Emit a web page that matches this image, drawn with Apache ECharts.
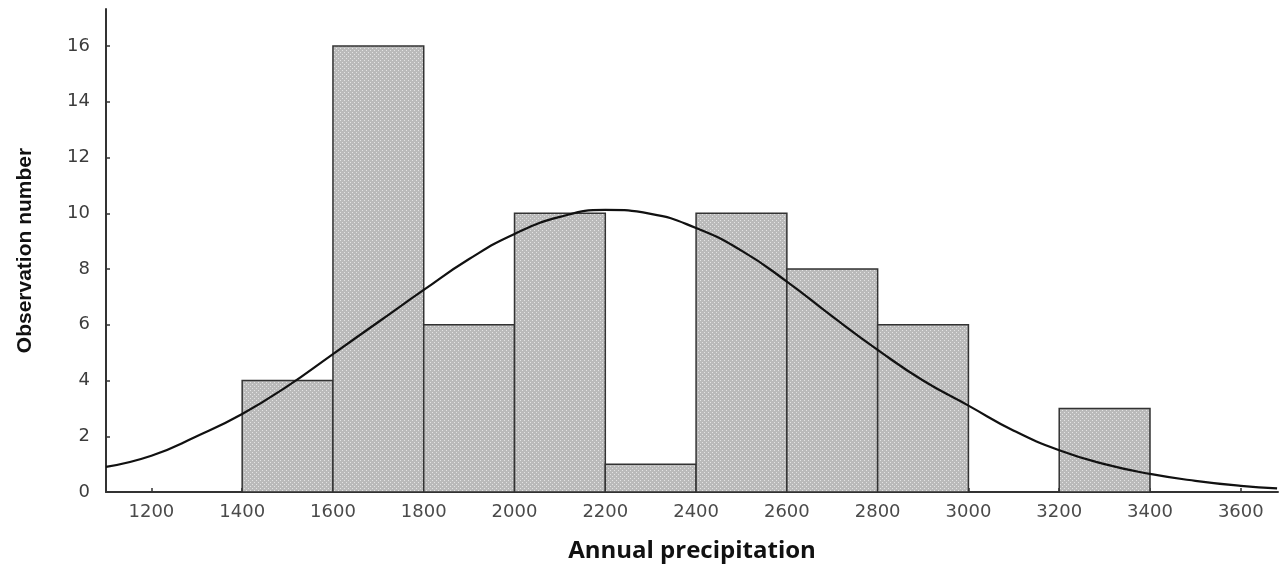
<!DOCTYPE html>
<html>
<head>
<meta charset="utf-8">
<script src="https://cdn.jsdelivr.net/npm/echarts@6/dist/echarts.min.js"></script>
<style>
html,body{margin:0;padding:0;background:#fff;}
#main{width:1280px;height:571px;}
</style>
</head>
<body>
<div id="main"></div>
<script>
// Histogram bins (lower edge, upper edge) and counts
var binStarts = [1400, 1600, 1800, 2000, 2200, 2400, 2600, 2800, 3000, 3200];
var binEnds   = [1600, 1800, 2000, 2200, 2400, 2600, 2800, 3000, 3200, 3400];
var counts    = [4, 16, 6, 10, 1, 10, 8, 6, 0, 3];

// Fitted normal curve
var curveX = [1100, 1200, 1300, 1400, 1500, 1600, 1700, 1800, 1900, 2000, 2100, 2200, 2300, 2400, 2500, 2600, 2700, 2800, 2900, 3000, 3100, 3200, 3300, 3400, 3500, 3600, 3680];
var curveY = [0.9, 1.3, 2.0, 2.8, 3.8, 4.95, 6.1, 7.25, 8.36, 9.26, 9.87, 10.12, 9.98, 9.47, 8.66, 7.55, 6.3, 5.1, 4.0, 3.1, 2.2, 1.5, 1.0, 0.65, 0.4, 0.22, 0.13];

// Tick labels
var xTicks = [1200, 1400, 1600, 1800, 2000, 2200, 2400, 2600, 2800, 3000, 3200, 3400, 3600];
var yTicks = [0, 2, 4, 6, 8, 10, 12, 14, 16];

// dotted grey fill pattern
var pc = document.createElement('canvas');
pc.width = 4; pc.height = 4;
var pctx = pc.getContext('2d');
pctx.fillStyle = '#bababa';
pctx.fillRect(0, 0, 4, 4);
pctx.fillStyle = '#e4e4e4';
pctx.fillRect(0, 0, 1, 1);
pctx.fillRect(2, 2, 1, 1);
var pattern = {image: pc, repeat: 'repeat'};

var barData = binStarts.map(function (s, i) { return [s, binEnds[i], counts[i]]; });
var lineData = curveX.map(function (x, i) { return [x, curveY[i]]; });

var chart = echarts.init(document.getElementById('main'), null, {renderer: 'canvas'});
chart.setOption({
  backgroundColor: '#ffffff',
  animation: false,
  grid: {left: 106, right: 2, top: 9, bottom: 79, containLabel: false},
  xAxis: {
    type: 'value',
    min: 1100,
    max: 3682,
    name: 'Annual precipitation',
    nameLocation: 'middle',
    nameGap: 47,
    nameTextStyle: {fontFamily: 'Open Sans', fontWeight: 'bold', fontSize: 24, color: '#111'},
    axisLine: {show: true, lineStyle: {color: '#333', width: 2}},
    axisTick: {show: true, inside: true, length: 4, customValues: xTicks, lineStyle: {color: '#333', width: 1.5}},
    axisLabel: {
      customValues: xTicks, margin: 11, fontFamily: 'DejaVu Sans', fontSize: 18, color: '#4a4a4a',
      formatter: function (v) { return String(v); }
    },
    splitLine: {show: false}
  },
  yAxis: {
    type: 'value',
    min: 0,
    max: 17.33,
    name: 'Observation number',
    nameLocation: 'middle',
    nameGap: 70,
    nameTextStyle: {fontFamily: 'Liberation Sans', fontWeight: 'bold', fontSize: 21, color: '#111'},
    axisLine: {show: true, lineStyle: {color: '#333', width: 2}},
    axisTick: {show: true, inside: true, length: 4, customValues: yTicks, lineStyle: {color: '#333', width: 1.5}},
    axisLabel: {
      customValues: yTicks, margin: 16, fontFamily: 'DejaVu Sans', fontSize: 18, color: '#3c3c3c',
      formatter: function (v) { return String(v); }
    },
    splitLine: {show: false}
  },
  series: [
    {
      type: 'custom',
      z: 2,
      data: barData,
      encode: {x: [0, 1], y: 2},
      renderItem: function (params, api) {
        var h = api.value(2);
        if (!h) return null;
        var p0 = api.coord([api.value(0), 0]);
        var p1 = api.coord([api.value(1), h]);
        return {
          type: 'rect',
          shape: {x: p0[0], y: p1[1], width: p1[0] - p0[0], height: p0[1] - p1[1]},
          style: {fill: pattern, stroke: '#333', lineWidth: 1.5}
        };
      }
    },
    {
      type: 'line',
      z: 5,
      data: lineData,
      smooth: true,
      symbol: 'none',
      lineStyle: {color: '#111', width: 2.2},
      clip: true
    }
  ]
});
</script>
</body>
</html>
